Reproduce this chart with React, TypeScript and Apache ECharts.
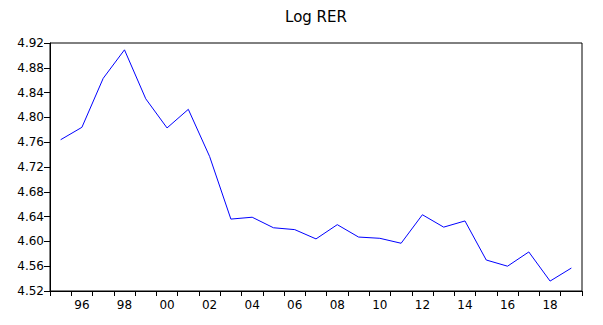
import React, { useEffect, useRef } from "react";
import * as echarts from "echarts";

const years: string[] = [
  "95", "96", "97", "98", "99", "00", "01", "02", "03", "04", "05", "06", "07",
  "08", "09", "10", "11", "12", "13", "14", "15", "16", "17", "18", "19",
];

const logRER: number[] = [
  4.764, 4.784, 4.863, 4.909, 4.830, 4.783, 4.813, 4.737, 4.636, 4.639, 4.622,
  4.619, 4.604, 4.627, 4.607, 4.605, 4.597, 4.643, 4.623, 4.633, 4.570, 4.560,
  4.583, 4.536, 4.557,
];

const yMin = 4.52;
const yMax = 4.92;
const yStep = 0.04;

const chartTitle = "Log RER";

export default function App() {
  const ref = useRef<HTMLDivElement>(null);
  useEffect(() => {
    if (!ref.current) return;
    const chart = echarts.init(ref.current, undefined, { renderer: "svg" });
    const font = "DejaVu Sans";
    chart.setOption({
      animation: false,
      backgroundColor: "#ffffff",
      graphic: [
        {
          type: "text",
          x: 316,
          y: 17,
          style: {
            text: chartTitle,
            align: "center",
            verticalAlign: "middle",
            fontSize: 15,
            fontFamily: font,
            fill: "#000000",
          },
        },
      ],
      grid: {
        left: 50,
        right: 21,
        top: 43,
        bottom: 34,
        show: true,
        borderColor: "#000000",
        borderWidth: 1,
        backgroundColor: "transparent",
      },
      xAxis: {
        type: "category",
        data: years,
        boundaryGap: true,
        axisLine: { show: true, lineStyle: { color: "#000000", width: 1 } },
        axisTick: {
          show: true,
          interval: 0,
          length: 5,
          inside: false,
          lineStyle: { color: "#000000", width: 1 },
        },
        axisLabel: {
          interval: (i: number) => i % 2 === 1,
          margin: 8,
          fontSize: 12,
          fontFamily: font,
          color: "#000000",
        },
        splitLine: { show: false },
      },
      yAxis: {
        type: "value",
        min: yMin,
        max: yMax,
        interval: yStep,
        axisLine: { show: true, lineStyle: { color: "#000000", width: 1 } },
        axisTick: {
          show: true,
          length: 6,
          inside: false,
          lineStyle: { color: "#000000", width: 1 },
        },
        axisLabel: {
          margin: 6,
          fontSize: 12,
          fontFamily: font,
          color: "#000000",
          formatter: (v: number) => v.toFixed(2),
        },
        splitLine: { show: false },
      },
      series: [
        {
          name: chartTitle,
          type: "line",
          data: logRER,
          symbol: "none",
          showSymbol: false,
          lineStyle: { color: "#0000ff", width: 1 },
          itemStyle: { color: "#0000ff" },
        },
      ],
    });
    return () => chart.dispose();
  }, []);
  return (
    <div
      ref={ref}
      style={{ position: "fixed", left: 0, top: 0, width: 603, height: 325, background: "#fff" }}
    />
  );
}
